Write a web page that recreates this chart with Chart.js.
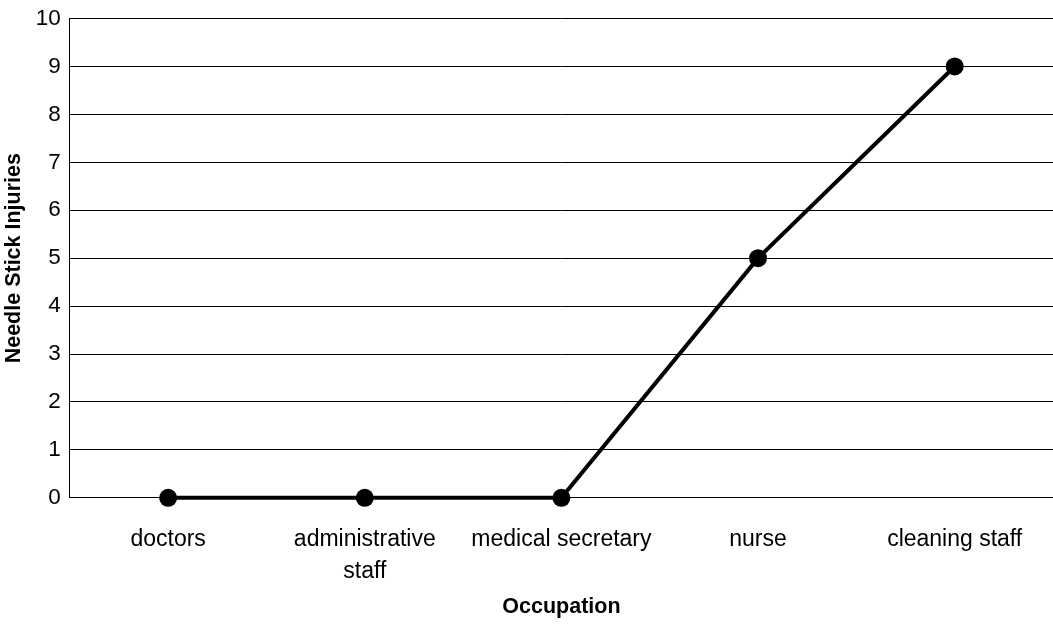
<!DOCTYPE html>
<html>
<head>
<meta charset="utf-8">
<script src="https://cdn.jsdelivr.net/npm/chart.js@4"></script>
<style>
  html, body { margin: 0; padding: 0; background: #fff; overflow: hidden; }
</style>
</head>
<body>
<canvas id="chart" width="1053" height="626"></canvas>
<script>
const occupations = ["doctors", ["administrative", "staff"], "medical secretary", "nurse", "cleaning staff"];
const injuries = [0, 0, 0, 5, 9];
const yTicks = [0, 1, 2, 3, 4, 5, 6, 7, 8, 9, 10];

const font = "'Liberation Sans', Arial, sans-serif";

new Chart(document.getElementById("chart"), {
  type: "line",
  data: {
    labels: occupations,
    datasets: [
      {
        data: injuries,
        borderColor: "#000",
        backgroundColor: "#000",
        borderWidth: 4,
        pointRadius: 9,
        pointBackgroundColor: "#000",
        pointBorderWidth: 0,
        tension: 0,
        clip: false,
      },
    ],
  },
  options: {
    responsive: false,
    animation: false,
    layout: { autoPadding: false, padding: { top: 0, right: 0, left: 0, bottom: 6 } },
    plugins: { legend: { display: false }, tooltip: { enabled: false } },
    scales: {
      x: {
        offset: true,
        grid: { display: false, drawTicks: false },
        border: { display: true, color: "#000", width: 1 },
        ticks: {
          color: "#000",
          padding: 26,
          maxRotation: 0,
          autoSkip: false,
          font: { family: font, size: 23, lineHeight: 1.4 },
        },
        title: {
          display: true,
          text: "Occupation",
          color: "#000",
          padding: { top: -20, bottom: 0 },
          font: { family: font, size: 21.5, weight: "bold" },
        },
      },
      y: {
        min: yTicks[0],
        max: yTicks[yTicks.length - 1],
        afterBuildTicks: (axis) => {
          axis.ticks = yTicks.map((v) => ({ value: v }));
        },
        grid: { color: "#000", lineWidth: 1, drawTicks: false },
        border: { display: true, color: "#000", width: 1 },
        ticks: {
          color: "#000",
          padding: 9,
          font: { family: font, size: 22.5, lineHeight: 0.85 },
        },
        title: {
          display: true,
          text: "Needle Stick Injuries",
          color: "#000",
          padding: { top: 1, bottom: 0 },
          font: { family: font, size: 21.5, weight: "bold" },
        },
      },
    },
  },
});
</script>
</body>
</html>
